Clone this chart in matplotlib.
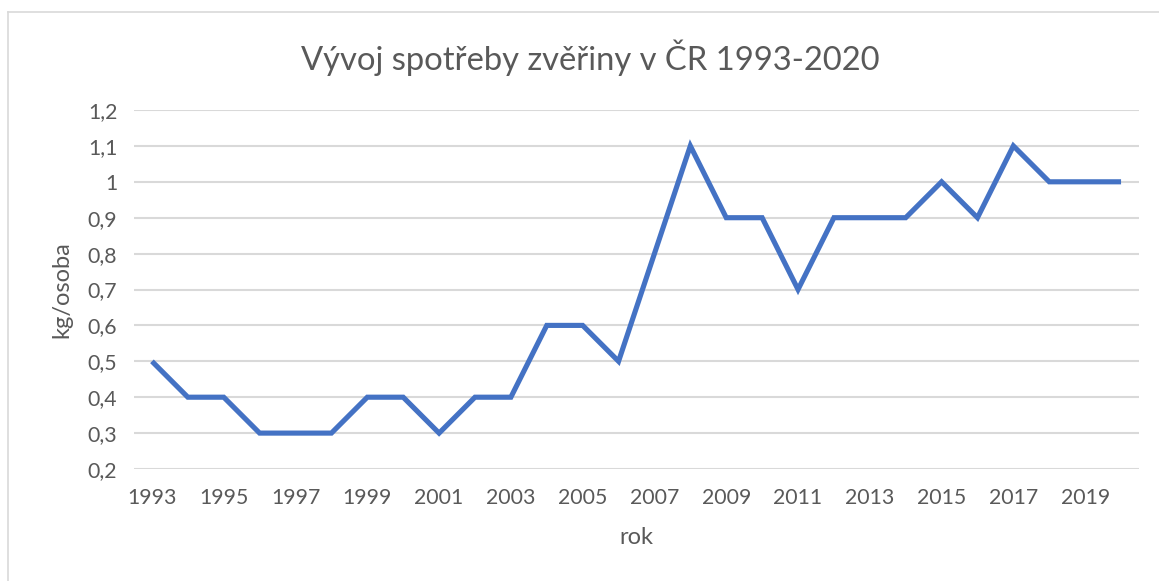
import matplotlib.pyplot as plt
from matplotlib.ticker import FuncFormatter, FixedLocator
from matplotlib.lines import Line2D

years = list(range(1993, 2021))
consumption = [0.5, 0.4, 0.4, 0.3, 0.3, 0.3, 0.4, 0.4, 0.3, 0.4,
               0.4, 0.6, 0.6, 0.5, 0.8, 1.1, 0.9, 0.9, 0.7, 0.9,
               0.9, 0.9, 1.0, 0.9, 1.1, 1.0, 1.0, 1.0]
y_ticks = [0.2, 0.3, 0.4, 0.5, 0.6, 0.7, 0.8, 0.9, 1.0, 1.1, 1.2]

TEXT = '#595959'
plt.rcParams['font.family'] = ['Lato', 'DejaVu Sans']

fig = plt.figure(figsize=(11.59, 5.81), dpi=100)
ax = fig.add_axes([134 / 1159, 1 - 469 / 581, 1005 / 1159, 359 / 581])

x = list(range(len(years)))
ax.plot(x, consumption, color='#4472C4', linewidth=3.7, solid_joinstyle='miter',
        solid_capstyle='butt', zorder=3)

ax.set_xlim(-0.5, len(years) - 0.5)
ax.set_ylim(0.2, 1.2)
ax.xaxis.set_major_locator(FixedLocator(x[::2]))
ax.set_xticklabels([str(y) for y in years[::2]])
ax.yaxis.set_major_locator(FixedLocator(y_ticks))
ax.yaxis.set_major_formatter(FuncFormatter(lambda v, p: f"{v:g}".replace('.', ',')))

ax.grid(axis='y', color='#d9d9d9', linewidth=1.5, zorder=0)
for s in ax.spines.values():
    s.set_visible(False)
ax.tick_params(length=0, labelsize=15.3, labelcolor=TEXT)
ax.tick_params(axis='x', pad=14)
ax.tick_params(axis='y', pad=12)

ax.set_xlabel('rok', fontsize=17, color=TEXT, labelpad=13)
ax.set_ylabel('kg/osoba', fontsize=17, color=TEXT, labelpad=11)
fig.text(590 / 1159, 1 - 58 / 581, 'Vývoj spotřeby zvěřiny v ČR 1993-2020',
         ha='center', va='center', fontsize=23.6, color=TEXT)

# light chart-area border (top and left edges visible)
fig.add_artist(Line2D([8 / 1159, 8 / 1159], [0, 1 - 12 / 581], transform=fig.transFigure,
                      color='#d9d9d9', linewidth=1.2))
fig.add_artist(Line2D([8 / 1159, 1], [1 - 12 / 581, 1 - 12 / 581], transform=fig.transFigure,
                      color='#d9d9d9', linewidth=1.2))

fig.savefig('out.png', dpi=100)
